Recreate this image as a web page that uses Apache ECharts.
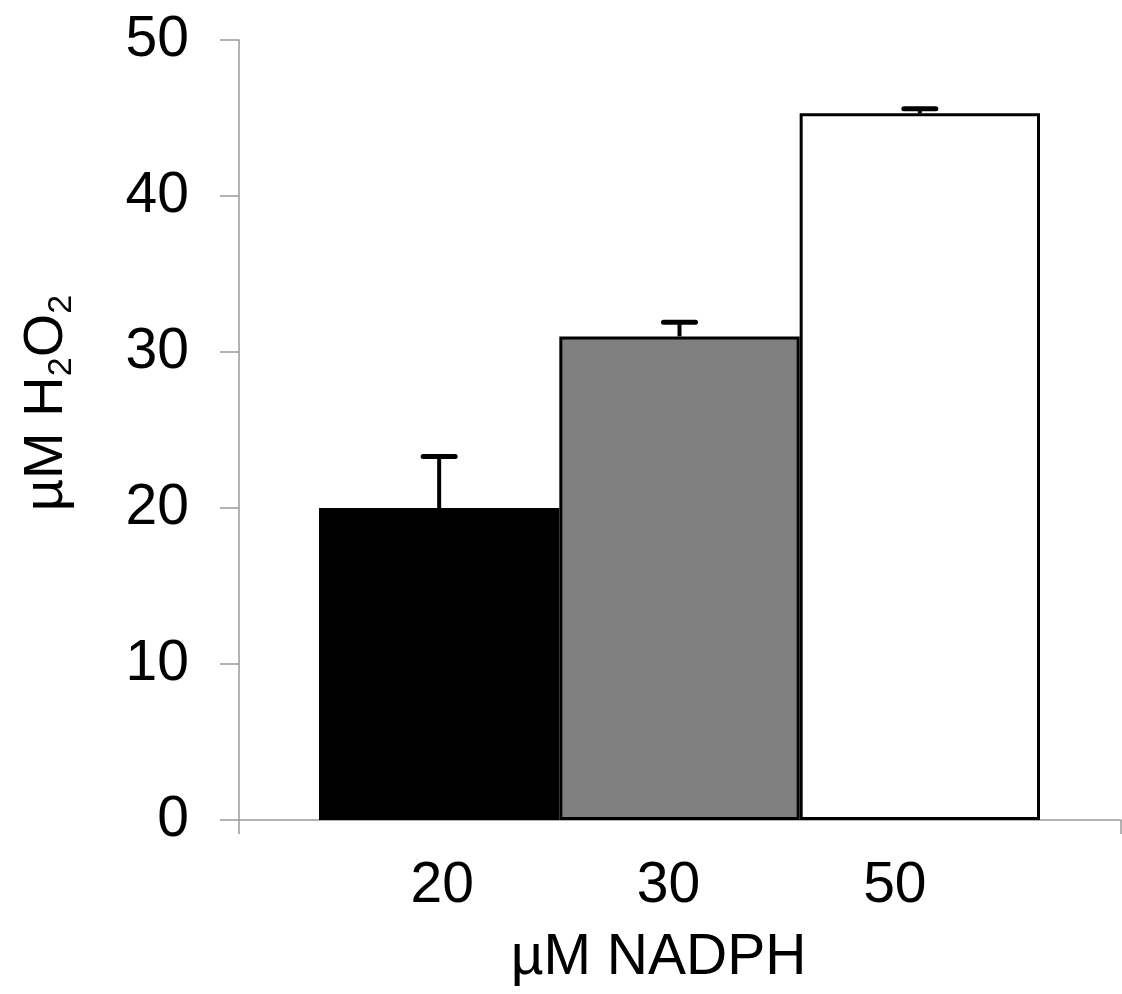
<!DOCTYPE html>
<html><head><meta charset="utf-8">
<script src="https://cdn.jsdelivr.net/npm/echarts@6/dist/echarts.min.js"></script>
<style>html,body{margin:0;padding:0;background:#fff}#c{width:1122px;height:994px}</style>
</head><body><div id="c"></div>
<script>
const categories = ['20', '30', '50'];
const means = [20.0, 31.0, 45.3];
const errors = [3.3, 0.9, 0.3];
const barColors = ['#000000', '#808080', '#ffffff'];
const yMin = 0, yMax = 50, yInterval = 10;

const font = '"Liberation Sans", Arial, sans-serif';
const axisGray = '#9a9a9a';
const chart = echarts.init(document.getElementById('c'), null, {renderer: 'canvas'});

const option = {
  animation: false,
  backgroundColor: '#ffffff',
  grid: [
    {left: 239, right: 1, top: 40, bottom: 174},
    {left: 319, right: 82, top: 40, bottom: 174},
    {left: 329, right: 114, top: 40, bottom: 174}
  ],
  xAxis: [
    {gridIndex: 0, type: 'category', data: [''], boundaryGap: true,
      axisLine: {lineStyle: {color: axisGray, width: 1.5}},
      axisTick: {show: true, length: 14, lineStyle: {color: axisGray, width: 1.5}},
      axisLabel: {show: false}, splitLine: {show: false}},
    {gridIndex: 1, type: 'category', data: categories, show: false},
    {gridIndex: 2, type: 'category', data: categories,
      axisLine: {show: false}, axisTick: {show: false}, splitLine: {show: false},
      axisLabel: {margin: 38, fontSize: 57, fontFamily: font, color: '#000'},
      name: 'µM NADPH', nameLocation: 'middle', nameGap: 110,
      nameTextStyle: {fontSize: 57, fontFamily: font, color: '#000', padding: [0, 20, 0, 0]}}
  ],
  yAxis: [
    {gridIndex: 0, type: 'value', min: yMin, max: yMax, interval: yInterval,
      axisLine: {show: true, lineStyle: {color: axisGray, width: 1.5}},
      axisTick: {show: true, length: 19, lineStyle: {color: axisGray, width: 1.5}},
      splitLine: {show: false},
      axisLabel: {margin: 50, fontSize: 57, fontFamily: font, color: '#000', padding: [0, 0, 12, 0]},
      name: '{n|µM H}{s|2}{n|O}{s|2}', nameLocation: 'middle', nameGap: 160, nameRotate: 90,
      nameTextStyle: {padding: [0, 0, 0, 54],
        rich: {
          n: {fontSize: 56, fontFamily: font, color: '#000', lineHeight: 64},
          s: {fontSize: 34, fontFamily: font, color: '#000', lineHeight: 38, verticalAlign: 'bottom'}
        }}},
    {gridIndex: 1, type: 'value', min: yMin, max: yMax, interval: yInterval, show: false},
    {gridIndex: 2, type: 'value', min: yMin, max: yMax, interval: yInterval, show: false}
  ],
  series: [
    {type: 'bar', xAxisIndex: 1, yAxisIndex: 1, barWidth: '100%', barGap: '0%',
      data: means.map((v, i) => ({value: v, itemStyle: {color: barColors[i]}})),
      itemStyle: {borderColor: '#000', borderWidth: 3}, z: 2},
    {type: 'custom', xAxisIndex: 1, yAxisIndex: 1, z: 3,
      data: means.map((v, i) => [i, v, errors[i]]),
      renderItem: function (params, api) {
        const x = api.value(0), y = api.value(1), e = api.value(2);
        const base = api.coord([x, y]);
        const top = api.coord([x, y + e]);
        const hw = 16;
        return {type: 'group', children: [
          {type: 'line', shape: {x1: base[0], y1: base[1], x2: top[0], y2: top[1]},
            style: {stroke: '#000', lineWidth: 4}},
          {type: 'line', shape: {x1: top[0] - hw, y1: top[1], x2: top[0] + hw, y2: top[1]},
            style: {stroke: '#000', lineWidth: 5, lineCap: 'round'}}
        ]};
      }}
  ]
};
chart.setOption(option);
</script>
</body></html>
